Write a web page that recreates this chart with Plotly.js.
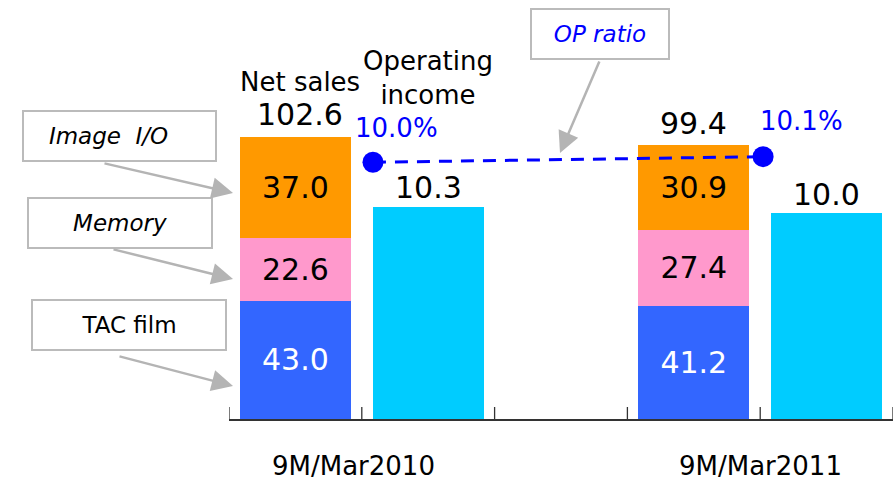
<!DOCTYPE html>
<html>
<head>
<meta charset="utf-8">
<script src="https://cdn.plot.ly/plotly-3.0.1.min.js"></script>
<style>html,body{margin:0;padding:0;background:#fff;}#chart{width:895px;height:482px;}</style>
</head>
<body>
<div id="chart"></div>
<script>
// ---- data ----
const periods   = ["9M/Mar2010", "9M/Mar2011"];
const tacFilm   = [43.0, 41.2];
const memory    = [22.6, 27.4];
const imageIO   = [37.0, 30.9];
const netSales  = [102.6, 99.4];
const opIncome  = [10.3, 10.0];
const opRatio   = [10.0, 10.1];
const segmentNames = ["TAC film", "Memory", "Image\u00a0 I/O"];

// ---- layout helpers ----
const W = 895, H = 482;
const px = x => x / W;
const py = y => 1 - y / H;
const FONT = "DejaVu Sans, Arial, sans-serif";

const nsCat = periods.map(p => p + " Net sales");
const oiCat = periods.map(p => p + " Operating income");
const slots = [nsCat[0], oiCat[0], " ", nsCat[1], oiCat[1]];

function stackTrace(name, vals, color, txtColor) {
  return {
    type: "bar", name: name, x: nsCat, y: vals,
    xaxis: "x", yaxis: "y", width: 0.835,
    marker: {color: color, line: {width: 0}},
    text: vals.map(v => v.toFixed(1)),
    textposition: "inside", insidetextanchor: "middle", textangle: 0,
    textfont: {family: FONT, size: 30, color: txtColor},
    hoverinfo: "skip", showlegend: false
  };
}

const traces = [
  stackTrace("TAC film", tacFilm, "#3366FF", "#FFFFFF"),
  stackTrace("Memory", memory, "#FF99CC", "#000000"),
  stackTrace("Image I/O", imageIO, "#FF9900", "#000000"),
  {
    type: "bar", name: "Operating income", x: oiCat, y: opIncome,
    xaxis: "x", yaxis: "y2", width: 0.835,
    marker: {color: "#00CCFF", line: {width: 0}},
    hoverinfo: "skip", showlegend: false
  },
  {
    type: "scatter", mode: "lines+markers", name: "OP ratio",
    x: periods, y: opRatio, xaxis: "x2", yaxis: "y3",
    line: {color: "#0000FF", width: 3, dash: "13px,9px"},
    marker: {color: "#0000FF", size: 21},
    hoverinfo: "skip", showlegend: false, cliponaxis: false
  }
];

const xDom = [px(229), px(893)];
const yDom = [py(419), 1];

const annotations = [];
periods.forEach((p, i) => {
  annotations.push({
    xref: "x", yref: "y", x: nsCat[i], y: netSales[i], text: netSales[i].toFixed(1),
    showarrow: false, xanchor: "center", yanchor: "middle", yshift: 22, xshift: i === 0 ? 5 : 0,
    font: {family: FONT, size: 30, color: "#000"}
  });
  annotations.push({
    xref: "x", yref: "y2", x: oiCat[i], y: opIncome[i], text: opIncome[i].toFixed(1),
    showarrow: false, xanchor: "center", yanchor: "middle", yshift: 19,
    font: {family: FONT, size: 30, color: "#000"}
  });
  annotations.push({
    xref: "x2", yref: "y3", x: p, y: opRatio[i], text: opRatio[i].toFixed(1) + "%",
    showarrow: false, xanchor: "center", yanchor: "middle",
    xshift: i === 0 ? 24 : 38, yshift: i === 0 ? 34 : 36,
    font: {family: FONT, size: 26, color: "#0000FF"}
  });
});
// period labels
annotations.push({xref: "paper", yref: "paper", x: px(353), y: py(466), text: periods[0],
  showarrow: false, xanchor: "center", yanchor: "middle", font: {family: FONT, size: 26, color: "#000"}});
annotations.push({xref: "paper", yref: "paper", x: px(760), y: py(466), text: periods[1],
  showarrow: false, xanchor: "center", yanchor: "middle", font: {family: FONT, size: 26, color: "#000"}});
// header labels
annotations.push({xref: "x", yref: "paper", x: nsCat[0], xshift: 5, y: py(82), text: "Net sales",
  showarrow: false, xanchor: "center", yanchor: "middle", font: {family: FONT, size: 26, color: "#000"}});
annotations.push({xref: "x", yref: "paper", x: oiCat[0], y: py(78), text: "Operating<br>income",
  showarrow: false, xanchor: "center", yanchor: "middle", font: {family: FONT, size: 26, color: "#000"}});

// callout boxes
function box(text, cx, cy, w, h, color, italic) {
  annotations.push({
    xref: "paper", yref: "paper", x: px(cx), y: py(cy), xanchor: "center", yanchor: "middle",
    text: italic ? "<i>" + text + "</i>" : text, showarrow: false,
    width: w, height: h, bordercolor: "#BBBBBB", borderwidth: 2, borderpad: 0, bgcolor: "#FFFFFF",
    font: {family: FONT, size: 23, color: color}
  });
}
box(segmentNames[2] + "\u00a0\u00a0\u00a0", 119.5, 136, 191, 48, "#000", true);
box(segmentNames[1], 120, 223, 182, 48, "#000", true);
box(segmentNames[0], 129, 325, 192, 48, "#000", false);
box("OP ratio", 600, 34, 136, 48, "#0000FF", true);

// arrows
function arrow(hx, hy, tx, ty) {
  annotations.push({
    xref: "paper", yref: "paper", x: px(hx), y: py(hy), ax: tx - hx, ay: ty - hy,
    text: "", showarrow: true, arrowhead: 2, arrowsize: 1.7, arrowwidth: 2.5,
    arrowcolor: "#B4B4B4", standoff: 0, startstandoff: 0
  });
}
arrow(233, 193, 103, 163);
arrow(233, 279, 112, 249);
arrow(233, 386, 118, 356);
arrow(560, 153, 600, 60);

// slot-boundary tick marks on the category axis
const tickPos = [-0.5, 0.5, 1.5, 2.5, 3.5, 4.5];
const shapes = tickPos.map(t => ({
  type: "line", xref: "x", yref: "paper", x0: t, x1: t, y0: py(419), y1: py(407),
  line: {color: "#333333", width: 1.3}
}));

const layout = {
  width: W, height: H,
  margin: {l: 0, r: 0, t: 0, b: 0},
  paper_bgcolor: "#FFFFFF", plot_bgcolor: "rgba(0,0,0,0)",
  barmode: "stack", showlegend: false,
  xaxis: {
    domain: xDom, type: "category", categoryorder: "array", categoryarray: slots,
    range: [-0.5, 4.5], showticklabels: false, ticks: "", showgrid: false, zeroline: false,
    showline: true, linecolor: "#333333", linewidth: 1.5
  },
  xaxis2: {
    domain: xDom, type: "category", overlaying: "x", range: [-0.369, 1.333], visible: false
  },
  yaxis: {domain: yDom, range: [0, 152.25], visible: false, anchor: "x"},
  yaxis2: {domain: yDom, range: [0, 20.34], overlaying: "y", visible: false, anchor: "x"},
  yaxis3: {domain: yDom, range: [5.416, 12.898], overlaying: "y", visible: false, anchor: "x2"},
  shapes: shapes,
  annotations: annotations
};

Plotly.newPlot("chart", traces, layout, {displayModeBar: false, staticPlot: true});
</script>
</body>
</html>
